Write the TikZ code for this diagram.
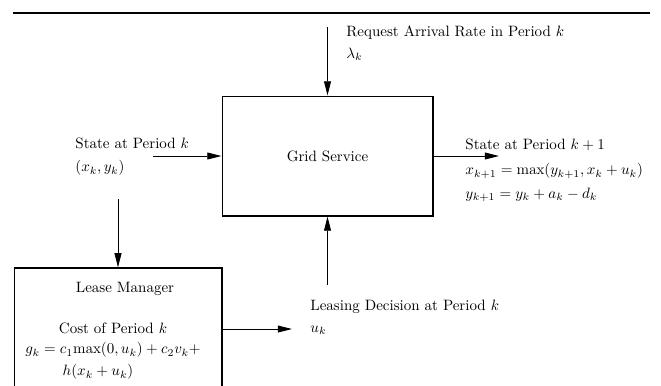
\documentclass[tikz,border=0pt]{standalone}
\usepackage{amsmath}
\usetikzlibrary{arrows.meta}

\begin{document}
\begin{tikzpicture}[x=0.667pt,y=-0.667pt,>={Triangle[length=9.5pt,width=4.6pt]},line width=0.6pt,
    block/.style={draw,line width=0.7pt,inner sep=0pt},
    label node/.style={anchor=west,inner sep=0pt}]
    \useasboundingbox (0,0) rectangle (661,385);
    \clip (0,0) rectangle (661,385);
    \draw[line width=1.4pt] (13,13) -- (650,13);

    \node[block,minimum width=140.7pt,minimum height=80pt] (grid) at (327.5,156) {Grid Service};
    \node[block,minimum width=138.7pt,minimum height=86.7pt] (lm) at (118,333) {};
    \node (lmtitle) at (125,289) {Lease Manager};
    \node (cost) at (113,328) {Cost of Period $k$};
    \node (costa) at (113,350) {$g_k = c_1\mathrm{max}(0,u_k)+c_2v_k+$};
    \node (costb) at (98,372) {$h(x_k+u_k)$};

    \node[label node] (req) at (346,33) {Request Arrival Rate in Period $k$};
    \node[label node] (lambda) at (346,54) {$\lambda_k$};
    \node[label node] (state) at (75,143) {State at Period $k$};
    \node[label node] (statexy) at (75,168) {$(x_k,y_k)$};
    \node[label node] (next) at (465,145) {State at Period $k+1$};
    \node[label node] (nextx) at (465,171) {$x_{k+1} = \max(y_{k+1},x_k+u_k)$};
    \node[label node] (nexty) at (465,195) {$y_{k+1} = y_k+a_k-d_k$};
    \node[label node] (lease) at (310,307) {Leasing Decision at Period $k$};
    \node[label node] (leaseu) at (310,330) {$u_k$};

    \coordinate (lambdain) at (327.5,27);
    \coordinate (statein) at (153,156);
    \coordinate (stateout) at (499,156);
    \coordinate (statedown) at (118,199);
    \coordinate (leasein) at (327.5,285);
    \coordinate (leaseout) at (292,329);

    \draw[->] (lambdain) -- (grid.north);
    \draw[->] (statein) -- (grid.west);
    \draw[->] (grid.east) -- (stateout);
    \draw[->] (statedown) -- (lm.north);
    \draw[->] (leasein) -- (grid.south);
    \draw[->] (lm.east |- leaseout) -- (leaseout);
\end{tikzpicture}
\end{document}
